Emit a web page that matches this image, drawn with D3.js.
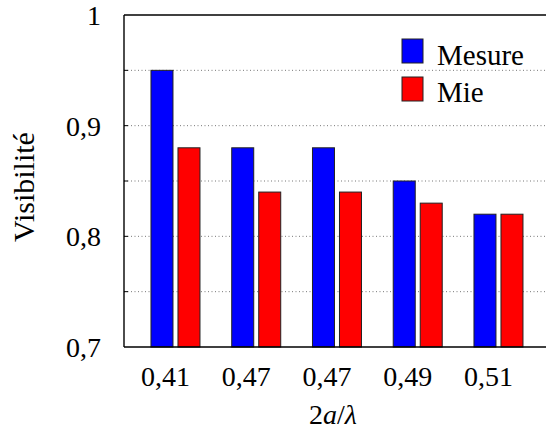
<!DOCTYPE html>
<html><head><meta charset="utf-8">
<script src="https://cdn.jsdelivr.net/npm/d3@7"></script>
<style>body{margin:0;background:#fff}svg{display:block}svg text{font-family:"Liberation Serif" !important}</style>
</head><body><svg id="c" width="546" height="435"></svg>
<script>
const categories = ["0,41","0,47","0,47","0,49","0,51"];
const mesure = [0.95,0.88,0.88,0.85,0.82];
const mie = [0.88,0.84,0.84,0.83,0.82];
const seriesNames = ["Mesure","Mie"];
const seriesColors = ["#0000ff","#ff0000"];
const yTicks = [0.7,0.8,0.9,1];
const yTickLabels = ["0,7","0,8","0,9","1"];
const yGrid = [0.75,0.8,0.85,0.9,0.95];

(function(){
const FF = "Liberation Serif";
const svg = d3.select("#c");
const pL = 124, pR = 570, pT = 15, pB = 347;
const x = d3.scaleBand().domain(d3.range(categories.length)).range([135.1, 538.85]).padding(0);
const y = d3.scaleLinear().domain([0.7,1]).range([pB, pT]);
const barW = 22, gap = 2.5;

svg.append("g").selectAll("line").data(yGrid).join("line")
  .attr("x1", pL).attr("x2", pR)
  .attr("y1", d=>y(d)).attr("y2", d=>y(d))
  .attr("stroke","#777").attr("stroke-width",1).attr("stroke-dasharray","1,2.5");

const series = [mesure, mie];
series.forEach((vals, si) => {
  svg.append("g").selectAll("rect").data(vals).join("rect")
    .attr("x", (d,i)=> x(i) + x.bandwidth()/2 + (si===0 ? -gap-barW : gap))
    .attr("y", d=>y(d))
    .attr("width", barW)
    .attr("height", d=> y(0.7)-y(d))
    .attr("fill", seriesColors[si])
    .attr("stroke","#222").attr("stroke-width",1);
});

svg.append("line").attr("x1",pL).attr("x2",pL).attr("y1",pT).attr("y2",pB).attr("stroke","#000").attr("stroke-width",1.4);
svg.append("line").attr("x1",pL).attr("x2",pR).attr("y1",pT).attr("y2",pT).attr("stroke","#000").attr("stroke-width",1.4);
svg.append("line").attr("x1",pL).attr("x2",pR).attr("y1",pB).attr("y2",pB).attr("stroke","#000").attr("stroke-width",1.4);

svg.append("g").selectAll("line").data(yGrid).join("line")
  .attr("x1",pL).attr("x2",pL+4).attr("y1",d=>y(d)).attr("y2",d=>y(d))
  .attr("stroke","#000").attr("stroke-width",1);

function txt(sel){ return sel.attr("font-family",FF).style("font-family",FF,"important"); }

txt(svg.append("g").selectAll("text").data(yTicks).join("text"))
  .attr("x",101).attr("y",d=>y(d)+10).attr("text-anchor","end")
  .attr("font-size",28).text((d,i)=>yTickLabels[i]);

txt(svg.append("g").selectAll("text").data(categories).join("text"))
  .attr("x",(d,i)=>x(i)+x.bandwidth()/2-10).attr("y",386).attr("text-anchor","middle")
  .attr("font-size",28).text(d=>d);

txt(svg.append("text")).attr("transform","translate(34,187) rotate(-90)").attr("text-anchor","middle")
  .attr("font-size",30).text("Visibilité");
const xt = txt(svg.append("text")).attr("x",333).attr("y",424).attr("text-anchor","middle").attr("font-size",28);
xt.append("tspan").text("2");
xt.append("tspan").attr("font-style","italic").text("a");
xt.append("tspan").text("/");
xt.append("tspan").attr("font-style","italic").text("λ");

const lg = svg.append("g");
seriesNames.forEach((n,i)=>{
  lg.append("rect").attr("x",402).attr("y",39+i*38).attr("width",21).attr("height",24)
    .attr("fill",seriesColors[i]).attr("stroke","#222").attr("stroke-width",1);
  txt(lg.append("text")).attr("x",437).attr("y",65+i*37).attr("font-size",29).text(n);
});
})();
</script></body></html>
